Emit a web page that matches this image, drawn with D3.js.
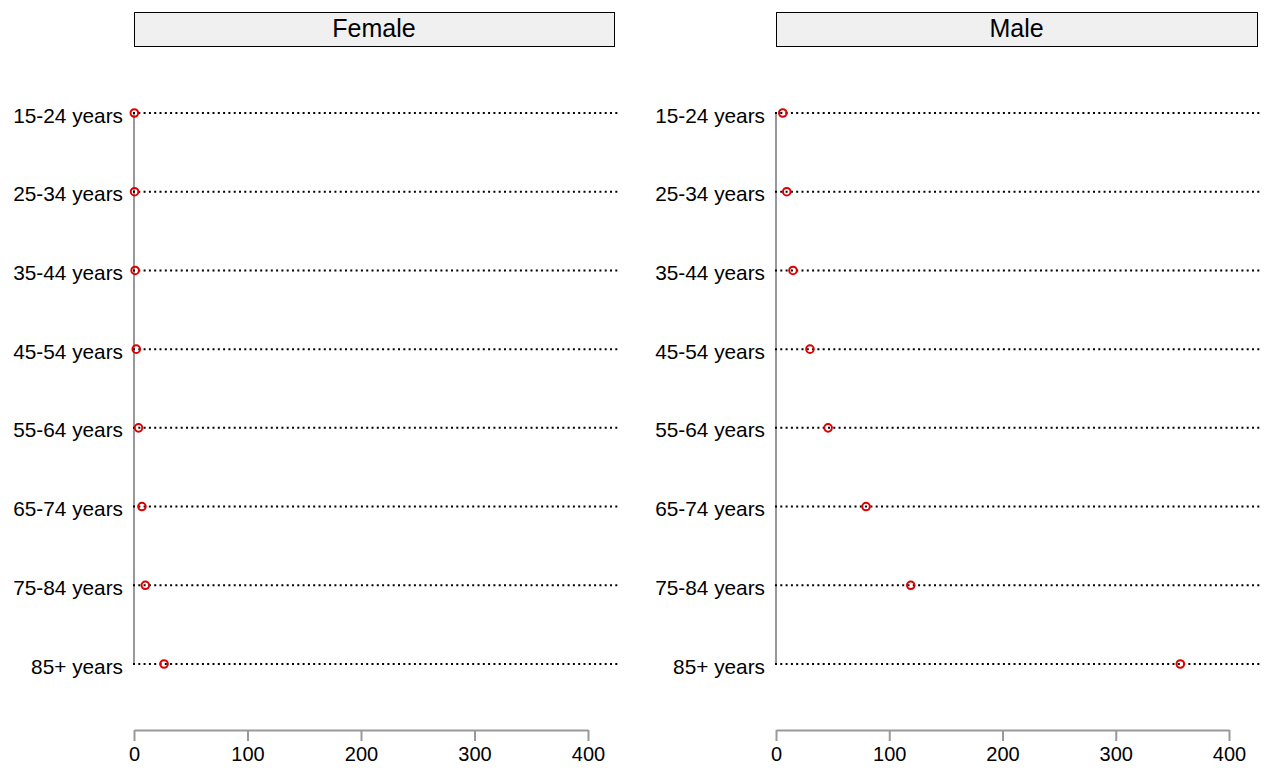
<!DOCTYPE html>
<html>
<head>
<meta charset="utf-8">
<script src="https://cdn.jsdelivr.net/npm/d3@7"></script>
<style>
  body { margin: 0; background: #fff; }
  text { font-family: "Liberation Sans", Arial, sans-serif; }
</style>
</head>
<body>
<div id="chart"></div>
<script>
const ages = ["15-24 years", "25-34 years", "35-44 years", "45-54 years",
              "55-64 years", "65-74 years", "75-84 years", "85+ years"];
const panels = ["Female", "Male"];
const femaleVals = [0.3, 0.5, 1, 2, 4, 7, 10, 26.5];
const maleVals = [6, 9.5, 15, 30, 46, 79.5, 119, 357];
const xTicks = [0, 100, 200, 300, 400];

const width = 1266, height = 768;
const svg = d3.select("#chart").append("svg")
    .attr("width", width)
    .attr("height", height);

// panel placement: x0 = pixel of zero, stripRight = strip right edge, lineRight = dotted end
const layout = [
  {x0: 134, x400: 588, stripRight: 614, lineRight: 618},
  {x0: 776, x400: 1229, stripRight: 1257, lineRight: 1260}
];
const values = [femaleVals, maleVals];

const y = d3.scalePoint().domain(ages).range([113, 664]);

panels.forEach((name, i) => {
  const L = layout[i];
  const x = d3.scaleLinear().domain([0, 400]).range([L.x0, L.x400]);
  const g = svg.append("g");

  // strip
  g.append("rect")
    .attr("x", L.x0 + 0.5).attr("y", 12.5)
    .attr("width", L.stripRight - L.x0).attr("height", 34)
    .attr("fill", "#f0f0f0").attr("stroke", "#000").attr("stroke-width", 1);
  g.append("text")
    .attr("x", (L.x0 + L.stripRight) / 2).attr("y", 27.5)
    .attr("text-anchor", "middle").attr("dominant-baseline", "central")
    .attr("font-size", 25).text(name);

  // y axis line
  g.append("line")
    .attr("x1", L.x0).attr("x2", L.x0)
    .attr("y1", y(ages[0])).attr("y2", y(ages[ages.length - 1]))
    .attr("stroke", "#999").attr("stroke-width", 2);

  // dotted guide lines
  g.selectAll(".guide").data(ages).join("line")
    .attr("class", "guide")
    .attr("x1", L.x0 - 1).attr("x2", L.lineRight)
    .attr("y1", d => y(d)).attr("y2", d => y(d))
    .attr("stroke", "#000").attr("stroke-width", 2)
    .attr("stroke-dasharray", "2,3.3");

  // category labels
  g.selectAll(".lab").data(ages).join("text")
    .attr("class", "lab")
    .attr("x", L.x0 - 11).attr("y", d => y(d) + 2)
    .attr("text-anchor", "end").attr("dominant-baseline", "central")
    .attr("font-size", 20.8).text(d => d);

  // points
  g.selectAll(".pt").data(values[i]).join("circle")
    .attr("class", "pt")
    .attr("cx", d => x(d)).attr("cy", (d, j) => y(ages[j]))
    .attr("r", 3.8)
    .attr("fill", "none").attr("stroke", "#dd0000").attr("stroke-width", 2);

  // x axis
  const ax = g.append("g").attr("transform", "translate(0,730)")
    .call(d3.axisBottom(x).tickValues(xTicks).tickSize(11).tickSizeOuter(0).tickPadding(6));
  ax.select(".domain").attr("stroke", "#999").attr("stroke-width", 2);
  ax.selectAll(".tick line").attr("stroke", "#999").attr("stroke-width", 2);
  ax.selectAll(".tick text")
    .attr("font-size", 20).attr("fill", "#000")
    .style("font-family", "Liberation Sans, Arial, sans-serif");
});
</script>
</body>
</html>
